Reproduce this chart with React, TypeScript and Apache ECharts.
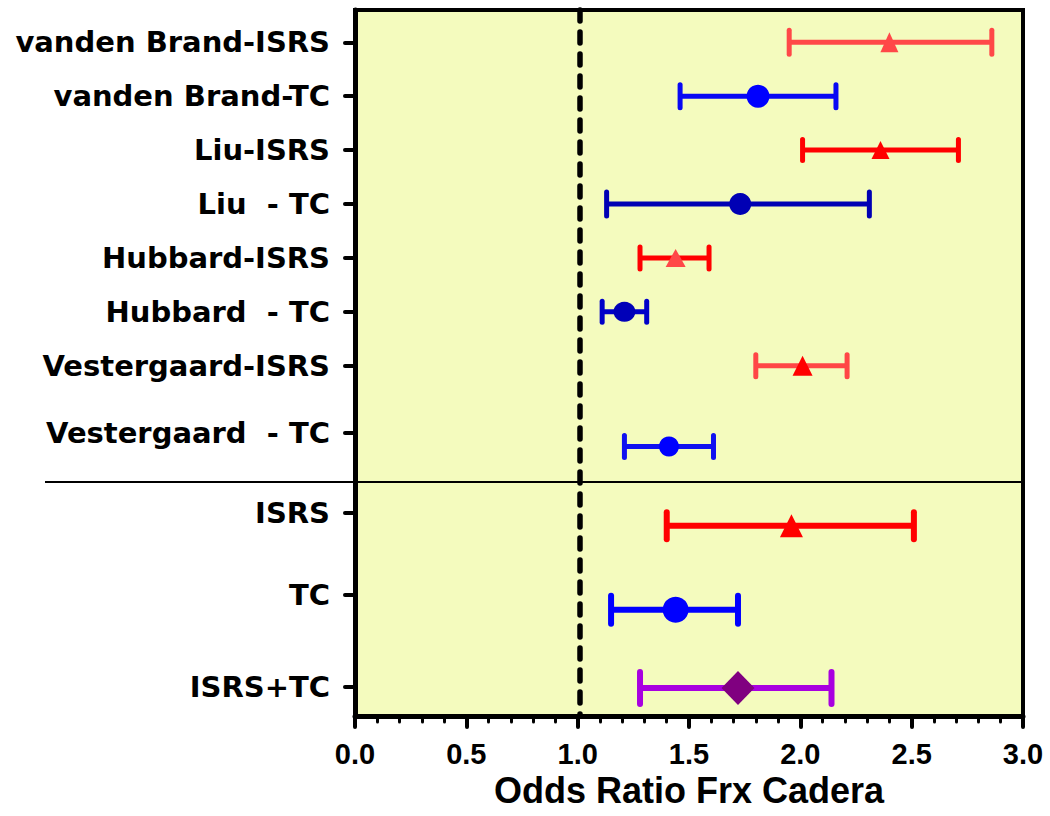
import React, { useEffect, useRef } from 'react';
import * as echarts from 'echarts';

// ---- data ----
const studyLabels = [
  'vanden Brand-ISRS',
  'vanden Brand-TC',
  'Liu-ISRS',
  'Liu  - TC',
  'Hubbard-ISRS',
  'Hubbard  - TC',
  'Vestergaard-ISRS',
  'Vestergaard  - TC',
  'ISRS',
  'TC',
  'ISRS+TC',
];
// row positions (in row units, top = 0) for the tick labels and for the marks
const labelPos = [0.6, 1.6, 2.6, 3.6, 4.6, 5.6, 6.6, 7.85, 9.33, 10.85, 12.56];
const rowPos = [0.6, 1.6, 2.6, 3.6, 4.6, 5.6, 6.6, 8.1, 9.57, 11.13, 12.58];
const oddsRatio = [2.4, 1.81, 2.36, 1.73, 1.44, 1.21, 2.01, 1.41, 1.96, 1.44, 1.72];
const ciLow = [1.95, 1.46, 2.01, 1.13, 1.28, 1.11, 1.8, 1.21, 1.4, 1.15, 1.28];
const ciHigh = [2.86, 2.16, 2.71, 2.31, 1.59, 1.31, 2.21, 1.61, 2.51, 1.72, 2.14];
const refLineX = 1.01;
const separatorPos = 8.76;
const xMin = 0;
const xMax = 3;
const xInterval = 0.5;
const yMin = 0;
const yMax = 13.1;
const xTitle = 'Odds Ratio Frx Cadera';

// ---- styles ----
const markerShape = [
  'triangle', 'circle', 'triangle', 'circle', 'triangle', 'circle',
  'triangle', 'circle', 'triangle', 'circle', 'diamond',
];
const barColors = [
  '#ff4848', '#0808f4', '#ff0000', '#0000b4', '#ff0000', '#0000c8',
  '#ff4646', '#1010f0', '#ff0000', '#0000ff', '#a800e0',
];
const markerColors = [
  '#ff4848', '#0000ff', '#ff0000', '#0000b4', '#ff4848', '#0000b8',
  '#ff0000', '#0000ff', '#ff0000', '#0000ff', '#800080',
];
const markerSizes: number[][] = [
  [18, 20], [23, 23], [18, 18], [22, 22], [20, 18], [22, 20],
  [20, 20], [20, 20], [23, 23], [26, 26], [33, 34],
];
const capHeights = [24, 23, 21, 24, 22, 21, 22, 22, 27, 28, 32];
const barWidths = [5, 5, 5, 5, 5, 5, 5, 5, 6, 6, 6];

export default function App() {
  const ref = useRef<HTMLDivElement>(null);

  useEffect(() => {
    const chart = echarts.init(ref.current as HTMLDivElement, null, { renderer: 'svg' });

    const nearestLabel = (v: number) => {
      let best = 0;
      let bd = Infinity;
      labelPos.forEach((p, i) => {
        const d = Math.abs(p - v);
        if (d < bd) {
          bd = d;
          best = i;
        }
      });
      return studyLabels[best];
    };

    const option: any = {
      animation: false,
      backgroundColor: '#ffffff',
      grid: {
        left: 355,
        right: 27,
        top: 10,
        bottom: 100,
        show: true,
        backgroundColor: '#f4fbbe',
        borderColor: '#000',
        borderWidth: 4,
        z: 0,
      },
      xAxis: {
        type: 'value',
        position: 'bottom',
        min: xMin,
        max: xMax,
        interval: xInterval,
        axisLine: { show: true, onZero: false, lineStyle: { color: '#000', width: 5 } },
        axisTick: { show: true, inside: false, length: 11, lineStyle: { color: '#000', width: 4, cap: 'round' } },
        minorTick: { show: true, splitNumber: 5, length: 6, lineStyle: { color: '#000', width: 3, cap: 'round' } },
        splitLine: { show: false },
        minorSplitLine: { show: false },
        axisLabel: {
          formatter: (v: number) => v.toFixed(1),
          margin: 23,
          fontFamily: 'Liberation Sans',
          fontWeight: 'bold',
          fontSize: 29,
          color: '#000',
        },
        name: xTitle,
        nameLocation: 'middle',
        nameGap: 56,
        nameTextStyle: {
          fontFamily: 'Liberation Sans, Arial, sans-serif',
          fontWeight: 'bold',
          fontSize: 36,
          color: '#000',
        },
      },
      yAxis: {
        type: 'value',
        position: 'left',
        inverse: true,
        min: yMin,
        max: yMax,
        axisLine: { show: true, onZero: false, lineStyle: { color: '#000', width: 5 } },
        axisTick: {
          show: true,
          customValues: labelPos,
          length: 10,
          lineStyle: { color: '#000', width: 4, cap: 'round' },
        },
        splitLine: { show: false },
        axisLabel: {
          customValues: labelPos,
          formatter: (v: number) => nearestLabel(v),
          fontFamily: 'DejaVu Sans, sans-serif',
          fontWeight: 'bold',
          fontSize: 29,
          color: '#000',
          margin: 25,
        },
      },
      series: [
        {
          type: 'custom',
          name: 'CI',
          z: 3,
          data: ciLow.map((lo, i) => [lo, ciHigh[i], rowPos[i]]),
          encode: { x: [0, 1], y: 2 },
          renderItem: (params: any, api: any) => {
            const idx = params.dataIndex;
            const lo = api.coord([api.value(0), api.value(2)]);
            const hi = api.coord([api.value(1), api.value(2)]);
            const h = capHeights[idx] / 2;
            const w = barWidths[idx];
            const barStyle = { stroke: barColors[idx], lineWidth: w, lineCap: 'butt' };
            const capStyle = { stroke: barColors[idx], lineWidth: w, lineCap: 'round' };
            return {
              type: 'group',
              children: [
                { type: 'line', shape: { x1: lo[0], y1: lo[1], x2: hi[0], y2: hi[1] }, style: barStyle },
                { type: 'line', shape: { x1: lo[0], y1: lo[1] - h, x2: lo[0], y2: lo[1] + h }, style: capStyle },
                { type: 'line', shape: { x1: hi[0], y1: hi[1] - h, x2: hi[0], y2: hi[1] + h }, style: capStyle },
              ],
            };
          },
        },
        {
          type: 'scatter',
          name: 'OR',
          z: 4,
          data: oddsRatio.map((v, i) => ({
            value: [v, rowPos[i]],
            symbol: markerShape[i],
            symbolSize: markerSizes[i],
            itemStyle: { color: markerColors[i], opacity: 1 },
          })),
          markLine: {
            silent: true,
            symbol: ['none', 'none'],
            label: { show: false },
            lineStyle: { color: '#000', width: 5.5, type: [11, 11], cap: 'round' },
            data: [{ xAxis: refLineX }],
            z: 2,
          },
        },
      ],
    };

    chart.setOption(option);

    const yPix = chart.convertToPixel({ yAxisIndex: 0 } as any, separatorPos) as number;
    const xRight = chart.convertToPixel({ xAxisIndex: 0 } as any, xMax) as number;
    chart.setOption({
      graphic: [
        {
          type: 'line',
          z: 1,
          shape: { x1: 45, y1: yPix, x2: xRight, y2: yPix },
          style: { stroke: '#000', lineWidth: 2 },
        },
      ],
    });

    return () => chart.dispose();
  }, []);

  return (
    <div
      ref={ref}
      style={{ position: 'fixed', left: 0, top: 0, width: 1050, height: 816 }}
    />
  );
}
